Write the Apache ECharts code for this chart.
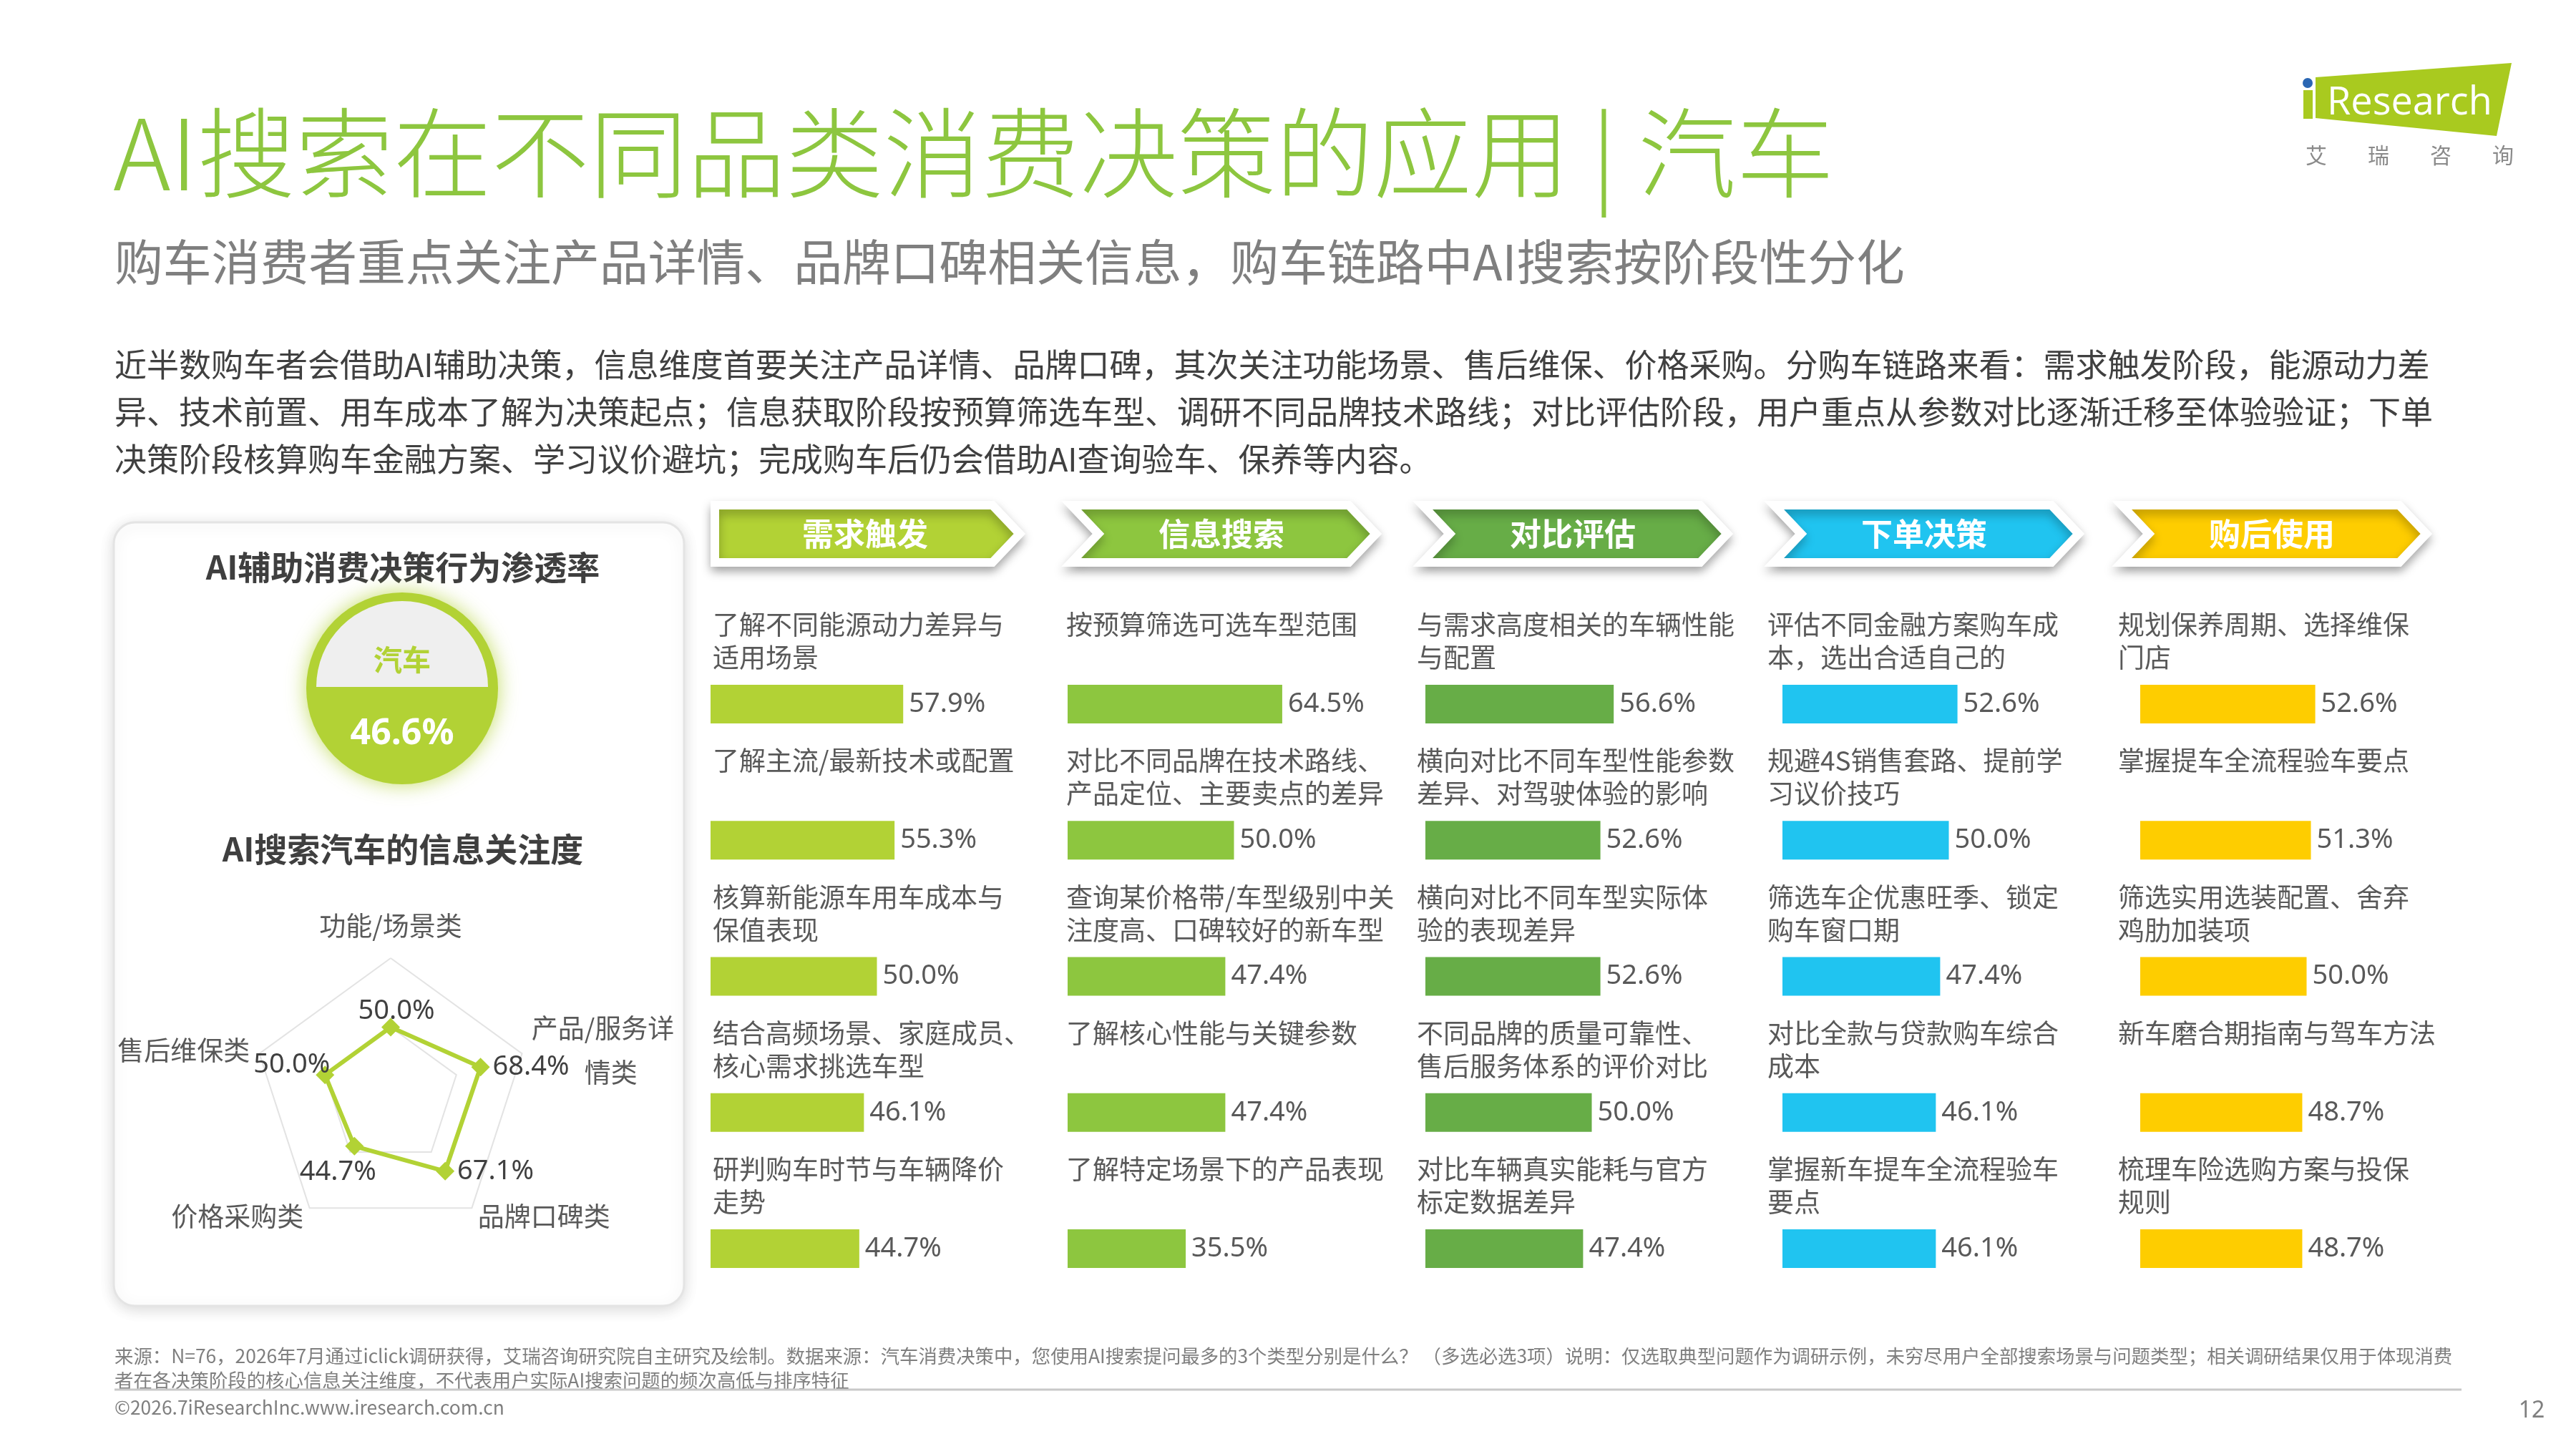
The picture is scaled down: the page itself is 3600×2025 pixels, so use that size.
<!DOCTYPE html>
<html lang="zh-CN">
<head>
<meta charset="UTF-8">
<title>AI搜索在不同品类消费决策的应用 | 汽车</title>
<script src="https://cdn.jsdelivr.net/npm/echarts@6.0.0/dist/echarts.min.js"></script>
<style>
    html, body { margin: 0; padding: 0; background: #fff; }
    #main { width: 3600px; height: 2025px; }
</style>
</head>
<body>
<div id="main"></div>
<script type="text/javascript">
// 购车链路各阶段
var stageNames = ['需求触发', '信息搜索', '对比评估', '下单决策', '购后使用'];
var stageColors = ['#b2d235', '#8dc63f', '#67ad47', '#20c4f0', '#fecd00'];

// 各阶段问题及选择占比（%）
var demandItems = ['了解不同能源动力差异与\n适用场景', '了解主流/最新技术或配置', '核算新能源车用车成本与\n保值表现', '结合高频场景、家庭成员、\n核心需求挑选车型', '研判购车时节与车辆降价\n走势'];
var demandValues = [57.9, 55.3, 50.0, 46.1, 44.7];
var searchItems = ['按预算筛选可选车型范围', '对比不同品牌在技术路线、\n产品定位、主要卖点的差异', '查询某价格带/车型级别中关\n注度高、口碑较好的新车型', '了解核心性能与关键参数', '了解特定场景下的产品表现'];
var searchValues = [64.5, 50.0, 47.4, 47.4, 35.5];
var compareItems = ['与需求高度相关的车辆性能\n与配置', '横向对比不同车型性能参数\n差异、对驾驶体验的影响', '横向对比不同车型实际体\n验的表现差异', '不同品牌的质量可靠性、\n售后服务体系的评价对比', '对比车辆真实能耗与官方\n标定数据差异'];
var compareValues = [56.6, 52.6, 52.6, 50.0, 47.4];
var orderItems = ['评估不同金融方案购车成\n本，选出合适自己的', '规避4S销售套路、提前学\n习议价技巧', '筛选车企优惠旺季、锁定\n购车窗口期', '对比全款与贷款购车综合\n成本', '掌握新车提车全流程验车\n要点'];
var orderValues = [52.6, 50.0, 47.4, 46.1, 46.1];
var afterItems = ['规划保养周期、选择维保\n门店', '掌握提车全流程验车要点', '筛选实用选装配置、舍弃\n鸡肋加装项', '新车磨合期指南与驾车方法', '梳理车险选购方案与投保\n规则'];
var afterValues = [52.6, 51.3, 50.0, 48.7, 48.7];

// AI搜索汽车的信息关注度（雷达，逆时针自顶部起）
var radarNames = ['功能/场景类', '售后维保类', '价格采购类', '品牌口碑类', '产品/服务详\n\u3000\u3000情类'];
var radarValues = [50.0, 50.0, 44.7, 67.1, 68.4];

// 渗透率
var penetrationName = '汽车';
var penetrationRate = 46.6;

var stageItems = [demandItems, searchItems, compareItems, orderItems, afterItems];
var stageValues = [demandValues, searchValues, compareValues, orderValues, afterValues];

// 版式
var FONT = '"Noto Sans CJK SC", "Noto Sans", sans-serif';
var NUMFONT = '"Noto Sans", "Noto Sans CJK SC", sans-serif';
var barLeft = [993, 1492, 1992, 2491, 2991];
var labelShift = [3, -2, -12, -21, -31];
var headerLeft = [999, 1497, 1988, 2479, 2965];

var grids = [], xAxes = [], yAxes = [], series = [];
stageItems.forEach(function (items, i) {
    grids.push({ left: barLeft[i], top: 889, width: 465, height: 951 });
    xAxes.push({ gridIndex: i, type: 'value', min: 0, max: 100, show: false });
    yAxes.push({ gridIndex: i, type: 'category', inverse: true, data: items, show: false });
    series.push({
        type: 'bar', xAxisIndex: i, yAxisIndex: i, data: stageValues[i],
        barWidth: 54, barGap: '-100%', silent: true,
        itemStyle: { color: stageColors[i] },
        label: {
            show: true, position: 'right', distance: 8,
            formatter: function (p) { return p.value.toFixed(1) + '%'; },
            fontSize: 38, color: '#595959', fontFamily: NUMFONT
        }
    });
    // 问题描述（透明柱上方标签）
    series.push({
        type: 'bar', xAxisIndex: i, yAxisIndex: i, data: stageValues[i],
        barWidth: 54, barGap: '-100%', silent: true,
        itemStyle: { color: 'rgba(0,0,0,0)' },
        label: {
            show: true, position: [labelShift[i], -107], align: 'left', verticalAlign: 'top',
            formatter: '{b}', fontSize: 37, lineHeight: 46, color: '#595959', fontFamily: FONT
        }
    });
});

// 雷达数值标签位置
var radarLabelPos = ['top', 'left', 'bottom', 'right', 'right'];
var radarLabelOffset = [[8, 14], [24, -14], [-23, 0], [0, 0], [0, 0]];
var radarData = [{
    value: radarValues,
    symbol: 'diamond', symbolSize: 26,
    lineStyle: { color: '#b2d235', width: 6 },
    itemStyle: { color: '#b2d235' },
    label: { show: false }
}];
radarLabelPos.forEach(function (pos, k) {
    radarData.push({
        value: radarValues,
        symbol: 'circle', symbolSize: 24,
        lineStyle: { opacity: 0 },
        itemStyle: { color: 'rgba(0,0,0,0)' },
        label: {
            show: true, position: pos, offset: radarLabelOffset[k], distance: 5,
            fontSize: 38, color: '#404040', fontFamily: NUMFONT, opacity: 1,
            formatter: function (p) {
                if (p.dimensionIndex !== k) return '';
                var v = Array.isArray(p.value) ? p.value[k] : p.value;
                return v.toFixed(1) + '%';
            }
        }
    });
});
series.push({ type: 'radar', silent: true, z: 5, data: radarData });

// 阶段箭头
function chevron(x0, first) {
    var y0 = 706, h = 80, body = 388, tip = 38;
    var pts = [[x0, y0], [x0 + body, y0], [x0 + body + tip, y0 + h / 2], [x0 + body, y0 + h], [x0, y0 + h]];
    if (!first) pts.push([x0 + tip, y0 + h / 2]);
    return pts;
}

var graphics = [
    // 标题
    { type: 'text', style: { text: 'AI搜索在不同品类消费决策的应用 | 汽车', x: 158, y: 214, fill: '#8dc63f', fontSize: 137, fontWeight: 300, fontFamily: FONT, verticalAlign: 'middle' } },
    { type: 'text', style: { text: '购车消费者重点关注产品详情、品牌口碑相关信息，购车链路中AI搜索按阶段性分化', x: 160, y: 366, fill: '#7f7f7f', fontSize: 67.8, fontFamily: FONT, verticalAlign: 'middle' } },
    { type: 'text', style: {
        text: '近半数购车者会借助AI辅助决策，信息维度首要关注产品详情、品牌口碑，其次关注功能场景、售后维保、价格采购。分购车链路来看：需求触发阶段，能源动力差\n异、技术前置、用车成本了解为决策起点；信息获取阶段按预算筛选车型、调研不同品牌技术路线；对比评估阶段，用户重点从参数对比逐渐迁移至体验验证；下单\n决策阶段核算购车金融方案、学习议价避坑；完成购车后仍会借助AI查询验车、保养等内容。',
        x: 160, y: 477, fill: '#404040', fontSize: 45, lineHeight: 66, fontFamily: FONT } },
    // 左侧面板
    { type: 'rect', z: -1, shape: { x: 159, y: 730, width: 797, height: 1095, r: 30 },
      style: { fill: '#fff', stroke: '#e4e4e4', lineWidth: 3, shadowBlur: 20, shadowColor: 'rgba(0,0,0,0.14)', shadowOffsetY: 4 } },
    { type: 'text', style: { text: 'AI辅助消费决策行为渗透率', x: 563, y: 793, fill: '#3f3f3f', fontSize: 46, fontWeight: 'bold', fontFamily: FONT, align: 'center', verticalAlign: 'middle' } },
    { type: 'circle', shape: { cx: 562, cy: 962, r: 134 }, style: { fill: '#b2d235', shadowBlur: 28, shadowColor: 'rgba(178,210,53,0.75)' } },
    { type: 'sector', shape: { cx: 562, cy: 960, r: 120, r0: 0, startAngle: Math.PI, endAngle: Math.PI * 2 }, style: { fill: '#efefef' } },
    { type: 'text', style: { text: penetrationName, x: 562, y: 922, fill: '#b2d235', fontSize: 40, fontWeight: 'bold', fontFamily: FONT, align: 'center', verticalAlign: 'middle' } },
    { type: 'text', style: { text: penetrationRate.toFixed(1) + '%', x: 562, y: 1026, fill: '#fff', fontSize: 50, fontWeight: 'bold', fontFamily: NUMFONT, align: 'center', verticalAlign: 'middle' } },
    { type: 'text', style: { text: 'AI搜索汽车的信息关注度', x: 563, y: 1187, fill: '#3f3f3f', fontSize: 46, fontWeight: 'bold', fontFamily: FONT, align: 'center', verticalAlign: 'middle' } },
    // 页脚
    { type: 'text', style: {
        text: '来源：N=76，2026年7月通过iclick调研获得，艾瑞咨询研究院自主研究及绘制。数据来源：汽车消费决策中，您使用AI搜索提问最多的3个类型分别是什么？ （多选必选3项）说明：仅选取典型问题作为调研示例，未穷尽用户全部搜索场景与问题类型；相关调研结果仅用于体现消费\n者在各决策阶段的核心信息关注维度，不代表用户实际AI搜索问题的频次高低与排序特征',
        x: 160, y: 1878, fill: '#7f7f7f', fontSize: 26.4, lineHeight: 34, fontFamily: FONT } },
    { type: 'line', shape: { x1: 160, y1: 1942, x2: 3440, y2: 1942 }, style: { stroke: '#c8c8c8', lineWidth: 3 } },
    { type: 'text', style: { text: '©2026.7iResearchInc.www.iresearch.com.cn', x: 160, y: 1967, fill: '#7f7f7f', fontSize: 26.4, fontFamily: FONT, verticalAlign: 'middle' } },
    { type: 'text', style: { text: '12', x: 3538, y: 1972, fill: '#7f7f7f', fontSize: 32, fontFamily: NUMFONT, align: 'center', verticalAlign: 'middle' } },
    // 标志
    { type: 'polygon', shape: { points: [[3236, 108], [3510, 88], [3489, 190], [3236, 165]] }, style: { fill: '#a9ca1f' } },
    { type: 'rect', shape: { x: 3219, y: 126, width: 13, height: 40 }, style: { fill: '#a9ca1f' } },
    { type: 'circle', shape: { cx: 3225, cy: 116, r: 7 }, style: { fill: '#2a66b3' } },
    { type: 'text', style: { text: 'Research', x: 3252, y: 145, fill: '#fff', fontSize: 54, fontFamily: '"Open Sans", sans-serif', verticalAlign: 'middle' } }
];
['艾', '瑞', '咨', '询'].forEach(function (c, k) {
    graphics.push({ type: 'text', style: { text: c, x: 3237 + k * 87, y: 217, fill: '#8a8a8a', fontSize: 30, fontFamily: FONT, align: 'center', verticalAlign: 'middle' } });
});
stageNames.forEach(function (name, i) {
    graphics.push({ type: 'polygon', shape: { points: chevron(headerLeft[i], i === 0) },
        style: { fill: stageColors[i], stroke: '#fff', lineWidth: 12, lineJoin: 'miter', shadowBlur: 14, shadowColor: 'rgba(0,0,0,0.28)', shadowOffsetY: 7 } });
    graphics.push({ type: 'text', style: { text: name, x: headerLeft[i] + 210, y: 746, fill: '#fff', fontSize: 44, fontWeight: 'bold', fontFamily: FONT, align: 'center', verticalAlign: 'middle' } });
});

var myChart = echarts.init(document.getElementById('main'));
myChart.setOption({
    backgroundColor: '#fff',
    animation: false,
    grid: grids,
    xAxis: xAxes,
    yAxis: yAxes,
    radar: {
        center: [546, 1532], radius: 193, startAngle: 90, splitNumber: 2, shape: 'polygon',
        indicator: radarNames.map(function (n) { return { name: n, max: 100 }; }),
        axisName: { color: '#595959', fontSize: 37, lineHeight: 62, fontFamily: FONT },
        nameGap: 14,
        axisLine: { show: false }, axisTick: { show: false }, axisLabel: { show: false },
        splitLine: { lineStyle: { color: '#e3e3e3', width: 2 } },
        splitArea: { show: false }
    },
    graphic: graphics,
    series: series
});
</script>
</body>
</html>
